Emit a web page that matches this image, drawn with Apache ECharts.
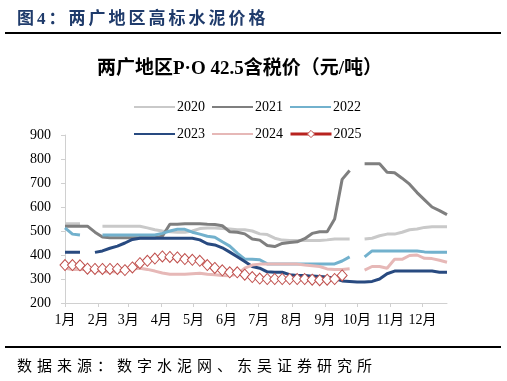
<!DOCTYPE html>
<html>
<head>
<meta charset="utf-8">
<script src="https://cdn.jsdelivr.net/npm/echarts@6/dist/echarts.min.js"></script>
<style>
html,body{margin:0;padding:0;background:#fff;}
#wrap{position:relative;width:507px;height:381px;overflow:hidden;}
#chart{position:absolute;left:0;top:0;width:507px;height:381px;}
#hdr{position:absolute;left:17px;top:4px;font:bold 17px "Liberation Serif","Noto Sans CJK SC",serif;color:#1F3B6B;letter-spacing:3px;white-space:nowrap;}
#hline{position:absolute;left:5px;top:32px;width:496px;height:2px;background:#000;}
#fline{position:absolute;left:5px;top:346px;width:496px;height:2px;background:#000;}
#ftr{position:absolute;left:17px;top:354px;font:15px "Liberation Serif","Noto Sans CJK SC",serif;color:#000;letter-spacing:5px;white-space:nowrap;}
</style>
</head>
<body>
<div id="wrap">
<div id="chart"></div>
<div id="hdr">图4：两广地区高标水泥价格</div>
<div id="hline"></div>
<div id="fline"></div>
<div id="ftr">数据来源：数字水泥网、东吴证券研究所</div>
</div>
<script>
// month labels and month-start day-of-year (x axis in weeks)
const monthLabels = ['1月','2月','3月','4月','5月','6月','7月','8月','9月','10月','11月','12月'];
const monthStartDays = [0,31,59,90,120,151,181,212,243,273,304,334];
const yTicks = [200,300,400,500,600,700,800,900];

// weekly prices (week index 0..51)
const v2020 = [530,530,530,null,null,520,520,520,520,520,520,513,505,500,497,495,495,500,510,512,512,510,508,505,505,500,488,485,470,462,460,460,460,460,460,463,467,467,467,null,467,470,480,487,487,495,505,508,515,518,518,518];
const v2021 = [520,520,520,520,495,475,472,472,472,472,472,472,472,478,528,528,530,530,530,528,527,522,497,495,488,467,462,440,435,448,452,455,468,490,497,497,550,715,752,null,780,780,780,745,743,720,695,660,630,600,585,568];
const v2022 = [513,487,483,null,null,483,483,483,483,483,483,483,483,490,500,507,507,495,487,478,474,455,437,408,383,382,380,363,362,362,362,362,362,362,362,362,363,375,392,null,392,417,417,417,417,417,417,417,413,411,411,411];
const v2023 = [411,411,411,null,411,417,428,437,450,465,470,470,470,470,470,470,470,470,463,447,442,430,412,393,373,352,345,330,328,328,318,315,315,312,310,308,302,292,290,288,288,290,300,322,333,333,333,333,333,333,328,328];
const v2024 = [345,340,340,340,337,330,330,330,335,342,345,340,333,325,320,320,320,322,324,320,318,315,314,320,345,358,362,362,362,362,362,362,358,355,352,342,340,340,343,null,337,352,352,345,382,382,398,400,386,385,378,370];
const v2025 = [358,358,357,343,342,342,342,342,337,348,366,376,385,394,392,390,383,380,376,358,346,336,328,328,318,308,302,300,300,300,300,300,300,297,295,297,300,315];

const seriesNames = ['2020','2021','2022','2023','2024','2025'];
const seriesVals = [v2020,v2021,v2022,v2023,v2024,v2025];
const colors = ['#C9C9C9','#7F7F7F','#72B1CD','#284A80','#E6B8B7','#C0504D'];

const monthStartWeeks = monthStartDays.map(d => d/7);
function pairs(arr){ return arr.map((v,i)=>[i,v]); }

const latin = '"Liberation Serif","Noto Sans CJK SC",serif';

const series = seriesVals.map((vals,k)=>{
  const s = {
    name: seriesNames[k], type:'line', data: pairs(vals),
    symbol:'none', connectNulls:false, smooth:false,
    lineStyle:{color:colors[k], width:3}, itemStyle:{color:colors[k]},
    z: 2 + k
  };
  if (seriesNames[k]==='2025'){
    s.symbol = 'diamond';
    s.symbolSize = [10,11];
    s.showSymbol = true;
    s.itemStyle = {color:'#ffffff', borderColor:'#C0504D', borderWidth:1};
    s.lineStyle = {color:'#B8231F', width:0, opacity:0};
  }
  return s;
});

function legendData(names){
  return names.map(n=>{
    if(n==='2025') return {name:n, itemStyle:{color:'#fff', borderColor:'#C0504D', borderWidth:1, opacity:1}, lineStyle:{color:'#B8231F', width:3, opacity:1}};
    return {name:n, itemStyle:{opacity:0}};
  });
}

const chart = echarts.init(document.getElementById('chart'), null, {renderer:'canvas'});
chart.setOption({
  animation:false,
  backgroundColor:'#fff',
  title:{text:'两广地区P·O 42.5含税价（元/吨）', left:92, top:55,
    textStyle:{fontFamily:latin, fontSize:19, fontWeight:'bold', color:'#000'}},
  legend:[
    {data:legendData(['2020','2021','2022']), left:133, top:100, padding:0, itemWidth:41, itemHeight:9, itemGap:6,
     textStyle:{fontFamily:latin, fontSize:14, color:'#000', padding:[0,0,0,-3]}},
    {data:legendData(['2023','2024','2025']), left:133, top:127, padding:0, itemWidth:41, itemHeight:9, itemGap:6,
     textStyle:{fontFamily:latin, fontSize:14, color:'#000', padding:[0,0,0,-3]}}
  ],
  grid:{left:65, right:60, top:135, bottom:78, containLabel:false},
  xAxis:{type:'value', min:0, max:51,
    axisLine:{show:true, lineStyle:{color:'#D0D0D0', width:1}},
    axisTick:{show:true, customValues:monthStartWeeks, length:4, lineStyle:{color:'#D0D0D0'}},
    axisLabel:{customValues:monthStartWeeks, margin:10, fontFamily:latin, fontSize:14, color:'#000',
      formatter:(v)=>{ const i = monthStartWeeks.findIndex(w=>Math.abs(w-v)<1e-6); return i>=0?monthLabels[i]:''; }},
    splitLine:{show:false}},
  yAxis:{type:'value', min:yTicks[0], max:yTicks[yTicks.length-1], interval:100,
    axisLine:{show:true, lineStyle:{color:'#D0D0D0', width:1}},
    axisTick:{show:true, length:4, lineStyle:{color:'#D0D0D0'}},
    axisLabel:{margin:14, fontFamily:latin, fontSize:14, color:'#000'},
    splitLine:{show:false}},
  series: series
});
</script>
</body>
</html>
